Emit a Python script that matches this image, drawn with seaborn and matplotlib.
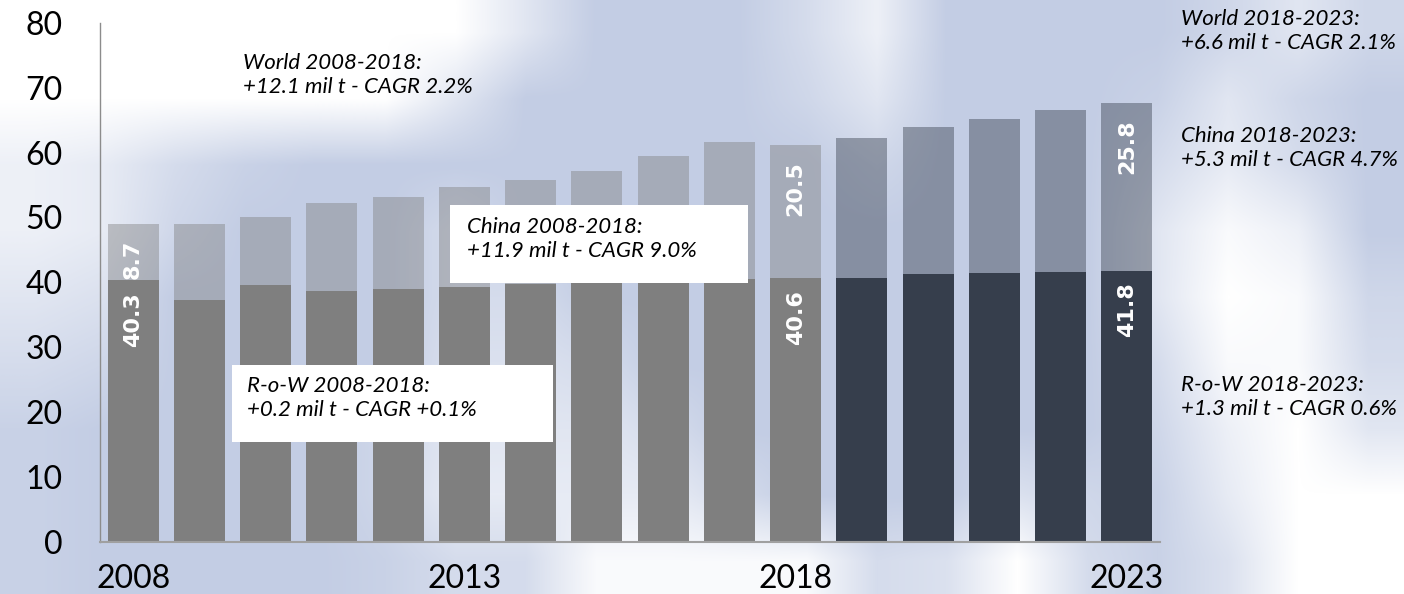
import numpy as np
import pandas as pd
import matplotlib
matplotlib.use("Agg")
import matplotlib.pyplot as plt
from matplotlib.patches import Rectangle
from matplotlib.colors import LinearSegmentedColormap
import seaborn as sns

# data (mil t)
years = [str(y) for y in range(2008, 2024)]
row_values = [40.3, 37.3, 39.6, 38.7, 39.0, 39.3, 39.7, 39.9, 40.1, 40.5, 40.6, 40.7, 41.3, 41.5, 41.6, 41.8]
china_values = [8.7, 11.7, 10.5, 13.5, 14.2, 15.4, 16.0, 17.2, 19.4, 21.1, 20.5, 21.5, 22.7, 23.7, 25.0, 25.8]
period = ["hist"] * 11 + ["fcst"] * 5
tick_years = ["2008", "2013", "2018", "2023"]
labelled_years = ["2008", "2018", "2023"]

notes_hist = {
    "world": "World 2008-2018:\n+12.1 mil t - CAGR 2.2%",
    "china": "China 2008-2018:\n+11.9 mil t - CAGR 9.0%",
    "row": "R-o-W 2008-2018:\n+0.2 mil t - CAGR +0.1%",
}
notes_fcst = {
    "world": "World 2018-2023:\n+6.6 mil t - CAGR 2.1%",
    "china": "China 2018-2023:\n+5.3 mil t - CAGR 4.7%",
    "row": "R-o-W 2018-2023:\n+1.3 mil t - CAGR 0.6%",
}

# rough whiteness map of the blurred background picture (decoration only)
bg_map = np.array([
    [1, 1, 1, 1, 1, 1, 1, .5, 0, 0, 0, .3, .7, 0, 0, 0, 0, .2, .5, .2],
    [1, 1, 1, 1, 1, 1, .5, 0, 0, 0, 0, .2, .5, 0, 0, 0, .1, .5, .2, 0],
    [.7, .6, .3, .1, 0, 0, 0, 0, 0, 0, 0, 0, .2, 0, 0, 0, .3, .6, .3, 0],
    [.7, .6, .2, 0, 0, 0, .3, 0, 0, 0, 0, 0, 0, 0, 0, 0, .5, .9, .7, 0],
    [.5, .4, 0, 0, 0, 0, .3, .3, 0, 0, 0, 0, 0, 0, 0, 0, .5, 1, .9, .2],
    [.3, .2, 0, 0, 0, 0, .4, .4, .3, 0, 0, 0, 0, 0, 0, 0, .3, .9, .9, .3],
    [.1, 0, 0, 0, 0, .2, .5, .5, .5, .3, 0, 0, 0, 0, 0, 0, .2, .7, 1, .5],
    [.1, 0, 0, 0, 0, .2, .6, .6, .6, .6, .3, 0, 0, 0, .4, .2, .1, .6, 1, 1],
    [.1, 0, 0, 0, 0, .1, .3, .3, .9, .9, .9, .9, .3, .4, 1, .3, .1, .4, 1, 1],
])

df = pd.DataFrame({"year": years, "row": row_values, "china": china_values, "period": period})
df["total"] = df["row"] + df["china"]

GREY = "#7F7F7F"
NAVY = "#333D4F"
BG = "#C3CDE4"
palette = {"hist": GREY, "fcst": NAVY}

sns.set_theme(style="white")
plt.rcParams["font.family"] = ["Lato", "DejaVu Sans"]

W, H = 1404, 594
fig = plt.figure(figsize=(W / 100, H / 100), dpi=100, facecolor=BG)

bg_ax = fig.add_axes([0, 0, 1, 1], zorder=-10)
bg_cmap = LinearSegmentedColormap.from_list("bg", [BG, "#FFFFFF"])
bg_ax.imshow(bg_map, cmap=bg_cmap, vmin=0, vmax=1, aspect="auto",
             interpolation="bilinear", extent=[0, 1, 0, 1])
bg_ax.set_axis_off()

ax = fig.add_axes([100 / W, 1 - 541.5 / H, 1060 / W, (541.5 - 23) / H])
ax.set_facecolor("none")

# totals first (translucent china part), then the opaque rest-of-world part on top
sns.barplot(data=df, x="year", y="total", hue="period", palette=palette, order=years,
            width=0.77, alpha=0.43, legend=False, ax=ax, linewidth=0)
sns.barplot(data=df, x="year", y="row", hue="period", palette=palette, order=years,
            width=0.77, legend=False, ax=ax, linewidth=0)

ax.set_xlim(-0.5, len(years) - 0.5)
ax.set_ylim(0, 80)
ax.set_yticks(range(0, 81, 10))
ax.set_xticks([years.index(y) for y in tick_years])
ax.set_xticklabels(tick_years)
ax.set_xlabel("")
ax.set_ylabel("")
ax.tick_params(axis="y", length=0, pad=27, labelsize=23, colors="black")
ax.tick_params(axis="x", length=0, pad=16, labelsize=23, colors="black")

for side in ["top", "right"]:
    ax.spines[side].set_visible(False)
ax.spines["left"].set_color("#8C8C8C")
ax.spines["left"].set_linewidth(1.0)
ax.spines["bottom"].set_color("#A0A0A0")
ax.spines["bottom"].set_linewidth(1.5)

# value labels inside the bars
lbl_font = dict(rotation=90, ha="center", va="top", color="white", fontsize=16,
                fontweight="bold", family=["DejaVu Sans"])
for y in labelled_years:
    i = years.index(y)
    r = df.loc[i, "row"]
    c = df.loc[i, "china"]
    ax.text(i, r - 1.8, f"{r:.1f}", **lbl_font)
    ax.text(i, r + c - 2.5, f"{c:.1f}", **lbl_font)

# annotations
def note(x, y, s):
    fig.text(x / W, 1 - y / H, s, ha="left", va="top", fontsize=16,
             style="italic", color="black", linespacing=1.25)

fig.patches.append(Rectangle((450 / W, 1 - 283 / H), 298 / W, 78 / H,
                             transform=fig.transFigure, facecolor="white",
                             edgecolor="none", zorder=3))
fig.patches.append(Rectangle((232 / W, 1 - 442 / H), 321 / W, 77 / H,
                             transform=fig.transFigure, facecolor="white",
                             edgecolor="none", zorder=3))

note(243, 53, notes_hist["world"])
note(467, 217, notes_hist["china"])
note(247, 376, notes_hist["row"])
note(1181, 9, notes_fcst["world"])
note(1181, 126, notes_fcst["china"])
note(1181, 375, notes_fcst["row"])

fig.savefig("out.png", dpi=100, facecolor=BG)
